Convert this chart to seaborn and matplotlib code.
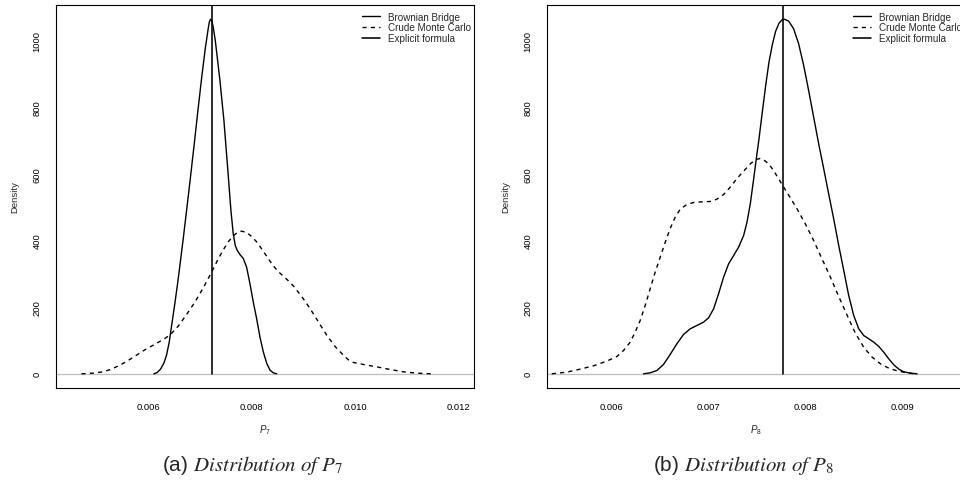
import numpy as np
import pandas as pd
import matplotlib
matplotlib.use("Agg")
import matplotlib.pyplot as plt
import seaborn as sns
from matplotlib.lines import Line2D

# ---------------- data ----------------
# Panel (a): distribution of P7
p7_bb_x = [0.006110, 0.006174, 0.006238, 0.006303, 0.006354, 0.006406, 0.006457,
           0.006509, 0.006560, 0.006612, 0.006676, 0.006741, 0.006805, 0.006882,
           0.006960, 0.007037, 0.007101, 0.007153, 0.007179, 0.007205, 0.007230,
           0.007256, 0.007295, 0.007333, 0.007385, 0.007462, 0.007533, 0.007597,
           0.007642, 0.007681, 0.007720, 0.007771, 0.007836, 0.007900, 0.007965,
           0.008029, 0.008093, 0.008158, 0.008222, 0.008287, 0.008351, 0.008415,
           0.008480]
p7_bb_y = [0, 4, 14, 32, 56, 95, 150, 205, 262, 325, 405, 490, 575, 680,
           790, 895, 975, 1030, 1055, 1064, 1058,
           1040, 1000, 950, 880, 760, 620, 490,
           420, 385, 370, 358, 346, 320, 270,
           215, 166, 110, 66, 32, 11, 3,
           0]
p7_mc_x = [0.004712, 0.004937, 0.005130, 0.005292, 0.005453, 0.005614, 0.005775,
           0.005936, 0.006097, 0.006258, 0.006419, 0.006580, 0.006741, 0.006902,
           0.007063, 0.007224, 0.007353, 0.007449, 0.007546, 0.007642, 0.007720,
           0.007803, 0.007900, 0.007997, 0.008093, 0.008222, 0.008351, 0.008448,
           0.008544, 0.008673, 0.008802, 0.008963, 0.009124, 0.009285, 0.009446,
           0.009607, 0.009768, 0.009865, 0.009961, 0.010187, 0.010412, 0.010670,
           0.010927, 0.011185, 0.011475]
p7_mc_y = [0, 2, 6, 14, 26, 40, 56,
           72, 86, 100, 116, 143, 178, 215,
           258, 305, 345, 372, 396, 414, 424,
           428, 424, 412, 396, 368, 338, 318,
           302, 284, 264, 232, 196, 156, 116,
           82, 56, 42, 34, 27, 21, 13,
           6, 2, 0]
p7_explicit = 0.007225
p7_xticks = [0.006, 0.008, 0.010, 0.012]
p7_xlim = (0.00422, 0.01229)

# Panel (b): distribution of P8
p8_bb_x = [0.006328, 0.006397, 0.006466, 0.006534, 0.006603, 0.006672, 0.006741,
           0.006810, 0.006879, 0.006948, 0.007000, 0.007052, 0.007103, 0.007155,
           0.007207, 0.007259, 0.007310, 0.007362, 0.007397, 0.007431, 0.007466,
           0.007493, 0.007521, 0.007555, 0.007590, 0.007624, 0.007659, 0.007693,
           0.007728, 0.007759, 0.007783, 0.007828, 0.007879, 0.007931, 0.007983,
           0.008034, 0.008086, 0.008138, 0.008190, 0.008241, 0.008293, 0.008345,
           0.008397, 0.008448, 0.008500, 0.008552, 0.008603, 0.008655, 0.008707,
           0.008759, 0.008810, 0.008862, 0.008914, 0.008966, 0.009017, 0.009086,
           0.009155]
p8_bb_y = [0, 3, 10, 28, 58, 90, 118,
           135, 145, 155, 168, 195, 240, 290,
           330, 355, 380, 415, 455, 510, 585,
           645, 705, 785, 865, 935, 988, 1028,
           1052, 1062, 1064, 1058, 1035, 990, 925,
           850, 770, 690, 615, 540, 465, 385,
           310, 235, 175, 135, 115, 105, 95,
           82, 65, 45, 27, 14, 6, 2,
           0]
p8_mc_x = [0.005379, 0.005534, 0.005672, 0.005810, 0.005948, 0.006052, 0.006121,
           0.006190, 0.006241, 0.006293, 0.006345, 0.006397, 0.006448, 0.006500,
           0.006552, 0.006603, 0.006655, 0.006707, 0.006776, 0.006845, 0.006931,
           0.007017, 0.007086, 0.007155, 0.007224, 0.007293, 0.007362, 0.007431,
           0.007483, 0.007528, 0.007569, 0.007621, 0.007672, 0.007724, 0.007776,
           0.007845, 0.007914, 0.008000, 0.008086, 0.008172, 0.008259, 0.008345,
           0.008431, 0.008517, 0.008603, 0.008690, 0.008776, 0.008862, 0.008948,
           0.009034, 0.009121]
p8_mc_y = [0, 5, 14, 24, 38, 52, 70,
           95, 125, 160, 205, 256, 305, 350,
           395, 436, 470, 494, 508, 514, 516,
           517, 524, 538, 560, 586, 608, 630,
           642, 646, 642, 630, 610, 585, 560,
           528, 495, 450, 400, 345, 290, 232,
           176, 122, 80, 50, 30, 17, 9,
           4, 0]
p8_explicit = 0.007765
p8_xticks = [0.006, 0.007, 0.008, 0.009]
p8_xlim = (0.00533, 0.00965)

yticks = [0, 200, 400, 600, 800, 1000]
legend_labels = ["Brownian Bridge", "Crude Monte Carlo", "Explicit formula"]
xlabels = [r"$P_7$", r"$P_8$"]
subtitles = [r"(a) $\mathit{Distribution\ of\ P}_7$", r"(b) $\mathit{Distribution\ of\ P}_8$"]

# ---------------- style ----------------
sns.set_style("white")
plt.rcParams["font.family"] = ["Liberation Sans", "DejaVu Sans"]
plt.rcParams["mathtext.fontset"] = "custom"
plt.rcParams["mathtext.it"] = "Liberation Sans:italic"
plt.rcParams["mathtext.rm"] = "Liberation Sans"
plt.rcParams["mathtext.bf"] = "Liberation Sans:bold"

W, H = 960, 485
fig = plt.figure(figsize=(W / 100, H / 100), dpi=100)

panels = [
    dict(bbx=p7_bb_x, bby=p7_bb_y, mcx=p7_mc_x, mcy=p7_mc_y, ex=p7_explicit,
         xt=p7_xticks, xlim=p7_xlim, left=56, sub_x=253),
    dict(bbx=p8_bb_x, bby=p8_bb_y, mcx=p8_mc_x, mcy=p8_mc_y, ex=p8_explicit,
         xt=p8_xticks, xlim=p8_xlim, left=547, sub_x=744),
]

ax_w, ax_top, ax_bot = 418, 6, 389
dash = (0, (3, 3))
lw = 1.0

for i, p in enumerate(panels):
    ax = fig.add_axes([p["left"] / W, 1 - ax_bot / H, ax_w / W, (ax_bot - ax_top) / H])
    df_bb = pd.DataFrame({"x": p["bbx"], "y": p["bby"]})
    df_mc = pd.DataFrame({"x": p["mcx"], "y": p["mcy"]})
    ax.axhline(0, color="#BEBEBE", lw=0.9, zorder=1)
    sns.lineplot(data=df_bb, x="x", y="y", ax=ax, color="black", lw=lw,
                 sort=False, estimator=None, zorder=3)
    sns.lineplot(data=df_mc, x="x", y="y", ax=ax, color="black", lw=lw,
                 linestyle=dash, sort=False, estimator=None, zorder=3)
    m = max(max(p["bby"]), max(p["mcy"]))
    ylo, yhi = -0.04 * m, 1.04 * m
    ax.set_ylim(ylo, yhi)
    ax.set_xlim(*p["xlim"])
    ax.axvline(p["ex"], ymin=(0 - ylo) / (yhi - ylo), ymax=1, color="black",
               lw=1.15, zorder=4)

    ax.set_xticks(p["xt"])
    ax.set_xticklabels([f"{v:.3f}" for v in p["xt"]])
    ax.set_yticks(yticks)
    ax.set_yticklabels([str(v) for v in yticks], rotation=90, va="center")
    ax.tick_params(axis="both", length=0, labelsize=6.8, colors="black")
    ax.tick_params(axis="x", pad=10)
    ax.tick_params(axis="y", pad=10.5)
    ax.set_xlabel(xlabels[i], fontsize=7, labelpad=8)
    ax.set_ylabel("Density", fontsize=6.8, labelpad=9.5)
    for s in ax.spines.values():
        s.set_visible(True)
        s.set_color("black")
        s.set_linewidth(0.8)

    handles = [Line2D([], [], color="black", lw=lw),
               Line2D([], [], color="black", lw=lw, linestyle=dash),
               Line2D([], [], color="black", lw=1.15)]
    ax.legend(handles, legend_labels, loc="upper left", bbox_to_anchor=(0.731, 0.983),
              frameon=False, fontsize=7.1, borderpad=0, borderaxespad=0,
              handlelength=1.85, handletextpad=0.8, labelspacing=0.1)

    fig.text(p["sub_x"] / W, 1 - 466 / H, subtitles[i], ha="center", va="center",
             fontsize=15, math_fontfamily="stix")

fig.savefig("out.png", dpi=100)
